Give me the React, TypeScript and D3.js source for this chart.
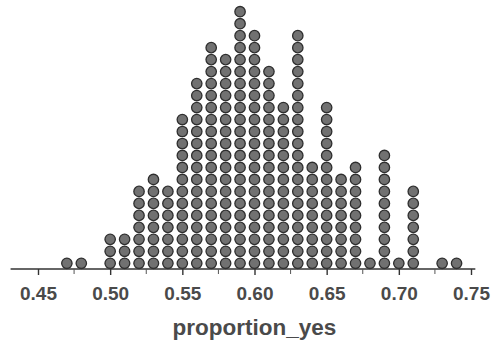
import React, { useEffect, useRef } from 'react';
import * as d3 from 'd3';

// one column of stacked dots per bin value
const binValues = [0.47, 0.48, 0.50, 0.51, 0.52, 0.53, 0.54, 0.55, 0.56, 0.57, 0.58, 0.59, 0.60,
  0.61, 0.62, 0.63, 0.64, 0.65, 0.66, 0.67, 0.68, 0.69, 0.70, 0.71, 0.73, 0.74];
const binCounts = [1, 1, 3, 3, 7, 8, 7, 13, 16, 19, 18, 22, 20,
  17, 14, 20, 9, 14, 8, 9, 1, 10, 1, 7, 1, 1];

const majorTicks = [0.45, 0.50, 0.55, 0.60, 0.65, 0.70, 0.75];
const minorTicks = [0.475, 0.525, 0.575, 0.625, 0.675, 0.725];
const axisExtent = [0.431, 0.753];
const xLabel = 'proportion_yes';

export default function App() {
  const ref = useRef<SVGSVGElement>(null);

  useEffect(() => {
    const width = 492;
    const height = 341;
    const svg = d3.select(ref.current).attr('width', width).attr('height', height);
    svg.selectAll('*').remove();

    const axisY = 269;
    const xScale = d3.scaleLinear().domain([0.45, 0.75]).range([38, 471]);
    // stack position -> y of the dot centre
    const yScale = d3.scaleLinear().domain([0, 21]).range([263.3, 11.7]);

    const dots: { v: number; i: number }[] = [];
    binValues.forEach((v, k) => {
      for (let i = 0; i < binCounts[k]; i++) dots.push({ v, i });
    });

    svg.selectAll('.dot')
      .data(dots)
      .join('circle')
      .attr('class', 'dot')
      .attr('cx', d => xScale(d.v))
      .attr('cy', d => yScale(d.i))
      .attr('r', 5.2)
      .attr('fill', '#717171')
      .attr('stroke', '#2e2e2e')
      .attr('stroke-width', 1.3);

    // axis line
    svg.append('line')
      .attr('x1', xScale(axisExtent[0]))
      .attr('x2', xScale(axisExtent[1]))
      .attr('y1', axisY)
      .attr('y2', axisY)
      .attr('stroke', '#333')
      .attr('stroke-width', 1.6);

    const axis = svg.append('g').attr('transform', `translate(0, ${axisY})`)
      .call(d3.axisBottom(xScale).tickValues(majorTicks).tickSize(6).tickPadding(8).tickFormat(d3.format('.2f')));
    axis.select('.domain').remove();
    axis.selectAll('line').attr('stroke', '#333').attr('stroke-width', 1.4);
    axis.selectAll('text')
      .attr('fill', '#4a4a4a')
      .attr('font-family', 'Liberation Sans, Arial, sans-serif')
      .attr('font-size', 19)
      .attr('font-weight', 'bold')
      .attr('dy', null)
      .attr('y', 31);

    svg.selectAll('.minor')
      .data(minorTicks)
      .join('line')
      .attr('class', 'minor')
      .attr('x1', d => xScale(d))
      .attr('x2', d => xScale(d))
      .attr('y1', axisY)
      .attr('y2', axisY + 5)
      .attr('stroke', '#555')
      .attr('stroke-width', 1);

    svg.append('text')
      .attr('x', xScale(0.6))
      .attr('y', 335)
      .attr('text-anchor', 'middle')
      .attr('fill', '#4a4a4a')
      .attr('font-family', 'Liberation Sans, Arial, sans-serif')
      .attr('font-size', 22.5)
      .attr('font-weight', 'bold')
      .text(xLabel);
  }, []);

  return (
    <div style={{ position: 'absolute', left: 0, top: 0, background: '#fff' }}>
      <svg ref={ref} style={{ display: 'block' }}></svg>
    </div>
  );
}
